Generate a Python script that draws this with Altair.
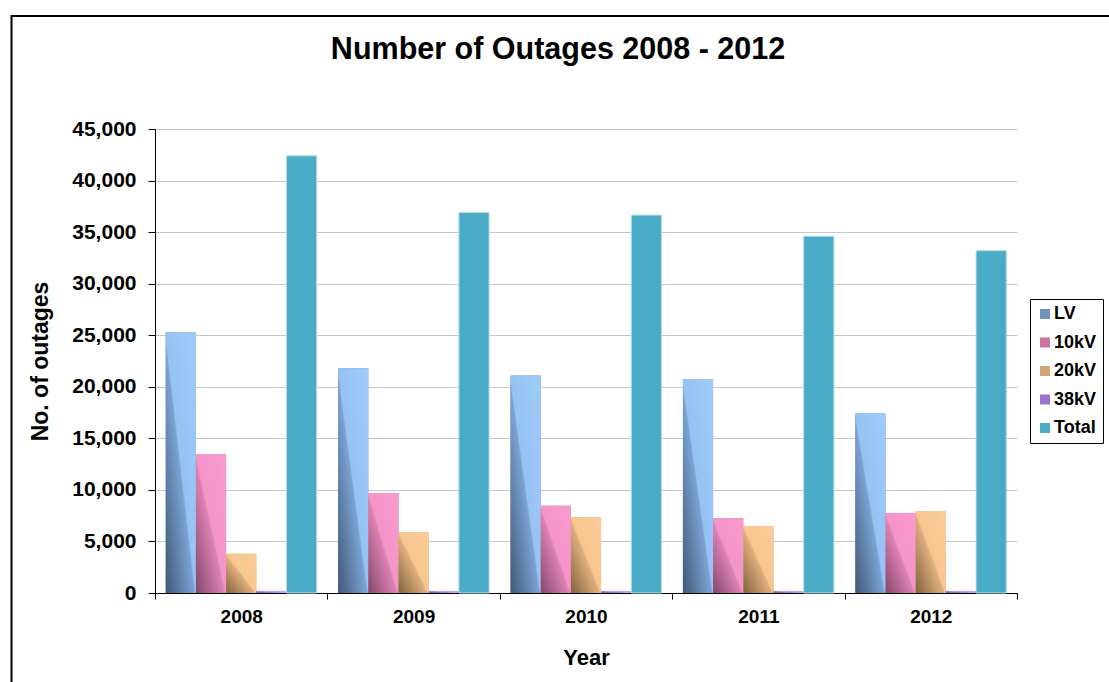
import altair as alt
import pandas as pd

# Outage counts per voltage level, 2008-2012
years = ["2008", "2009", "2010", "2011", "2012"]
series = ["LV", "10kV", "20kV", "38kV", "Total"]
lv = [25300, 21800, 21100, 20750, 17450]
kv10 = [13450, 9700, 8450, 7250, 7750]
kv20 = [3800, 5900, 7350, 6500, 7950]
kv38 = [200, 200, 200, 200, 200]
total = [42400, 36900, 36650, 34600, 33200]

values_by_series = {"LV": lv, "10kV": kv10, "20kV": kv20, "38kV": kv38, "Total": total}
rows = []
for s in series:
    for y, v in zip(years, values_by_series[s]):
        rows.append({"year": y, "series": s, "value": v})
df = pd.DataFrame(rows)

# solid colours (used for the legend) and diagonal gradient fills for the bars
legend_colors = ["#6f93bd", "#c9739f", "#d3a572", "#9a72cf", "#4bacc6"]
gradient_stops = {
    "LV": ["#405877", "#7aa2d2", "#96c3f3", "#9dcbfa"],
    "10kV": ["#84476a", "#dc82b4", "#f494c8", "#f99bcf"],
    "20kV": ["#83633e", "#deae7c", "#f7c690", "#fbcc99"],
    "38kV": ["#6c4a9c", "#b58ae8", "#c49cf3", "#c9a0f6"],
}

FONT = "Liberation Sans"

base = alt.Chart(df).encode(
    x=alt.X(
        "year:N",
        sort=years,
        scale=alt.Scale(paddingInner=0, paddingOuter=0),
        axis=alt.Axis(
            title="Year",
            tickBand="extent",
            labelAngle=0,
            grid=False,
            tickSize=6,
            tickColor="black",
            domainColor="black",
            labelFont=FONT,
            labelFontSize=19,
            labelFontWeight="bold",
            labelColor="black",
            labelPadding=8,
            titleFont=FONT,
            titleFontSize=22,
            titleFontWeight="bold",
            titleColor="black",
            titlePadding=21,
        ),
    ),
    xOffset=alt.XOffset(
        "series:N",
        sort=series,
        scale=alt.Scale(domain=series, paddingInner=0, paddingOuter=0.355),
    ),
    y=alt.Y(
        "value:Q",
        scale=alt.Scale(domain=[0, 45000], nice=False),
        axis=alt.Axis(
            title="No. of outages",
            values=list(range(0, 45001, 5000)),
            format=",d",
            grid=True,
            gridColor="#c6c6c6",
            gridWidth=1,
            tickSize=7,
            tickColor="black",
            domainColor="black",
            labelFont=FONT,
            labelFontSize=21,
            labelFontWeight="bold",
            labelColor="black",
            labelPadding=12,
            titleFont=FONT,
            titleFontSize=23,
            titleFontWeight="bold",
            titleColor="black",
            titlePadding=19,
        ),
    ),
)

# solid bars carrying the colour legend
solid = base.mark_bar().encode(
    color=alt.Color(
        "series:N",
        sort=series,
        scale=alt.Scale(domain=series, range=legend_colors),
        legend=alt.Legend(
            title=None,
            orient="none",
            legendX=875,
            legendY=170,
            symbolType="square",
            symbolSize=100,
            symbolStrokeWidth=0,
            labelFont=FONT,
            labelFontSize=18,
            labelFontWeight="bold",
            labelColor="black",
            labelOffset=0,
            rowPadding=10.5,
            padding=6,
            strokeColor="black",
            fillColor="white",
        ),
    )
)

layers = [solid]
for s, stops in gradient_stops.items():
    grad = alt.Gradient(
        gradient="linear",
        stops=[
            alt.GradientStop(color=stops[0], offset=0),
            alt.GradientStop(color=stops[1], offset=0.47),
            alt.GradientStop(color=stops[2], offset=0.5),
            alt.GradientStop(color=stops[3], offset=1),
        ],
        x1=0,
        y1=1,
        x2=1,
        y2=0,
    )
    layers.append(
        base.mark_bar(fill=grad).transform_filter(alt.datum.series == s)
    )

# Total bars with a thin light edge
layers.append(
    base.mark_bar(fill="#4aabc6", stroke="#b9e0ea", strokeWidth=1)
    .transform_filter(alt.datum.series == "Total")
)

single = alt.Chart(pd.DataFrame({"k": [0]}))

# chart heading
heading = single.mark_text(
    text="Number of Outages 2008 - 2012",
    font=FONT,
    fontSize=30.5,
    fontWeight="bold",
    color="black",
    align="center",
    baseline="alphabetic",
).encode(x=alt.value(403), y=alt.value(-70))

# outer frame of the figure
frame_top = single.mark_rule(color="black", strokeWidth=2).encode(
    x=alt.value(-143.5), x2=alt.value(1000), y=alt.value(-113)
)
frame_left = single.mark_rule(color="black", strokeWidth=2).encode(
    x=alt.value(-143.5), y=alt.value(-114), y2=alt.value(600)
)

chart = (
    alt.layer(*layers, heading, frame_top, frame_left)
    .properties(
        width=862,
        height=464,
        autosize=alt.AutoSizeParams(type="none"),
        padding={"left": 155, "top": 129, "right": 92, "bottom": 89},
        background="white",
    )
    .configure_view(strokeWidth=0)
)

chart.save("out.html", embed_options={"renderer": "svg", "actions": False})
